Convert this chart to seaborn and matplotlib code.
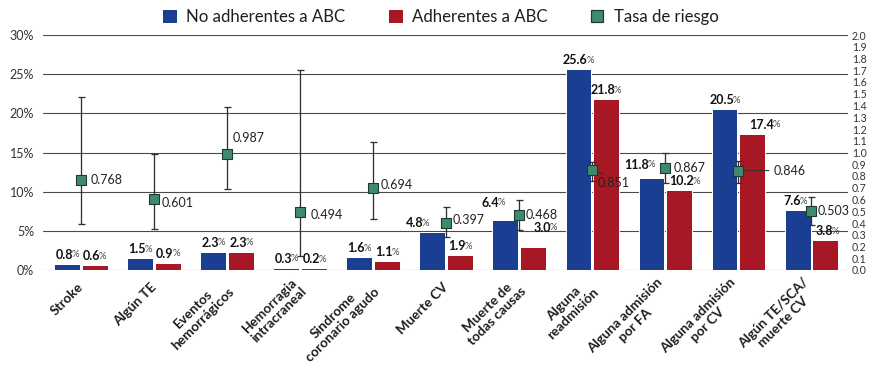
import numpy as np
import pandas as pd
import matplotlib
matplotlib.use("Agg")
import matplotlib.pyplot as plt
import seaborn as sns
from matplotlib.patches import Patch
from matplotlib.lines import Line2D

# ---------------- data ----------------
categories = ["Stroke", "Algún TE", "Eventos\nhemorrágicos", "Hemorragia\nintracraneal",
              "Sindrome\ncoronario agudo", "Muerte CV", "Muerte de\ntodas causas",
              "Alguna\nreadmisión", "Alguna admisión\npor FA", "Alguna admisión\npor CV",
              "Algún TE/SCA/\nmuerte CV"]
no_adherentes = [0.8, 1.5, 2.3, 0.3, 1.6, 4.8, 6.4, 25.6, 11.8, 20.5, 7.6]
adherentes = [0.6, 0.9, 2.3, 0.2, 1.1, 1.9, 3.0, 21.8, 10.2, 17.4, 3.8]
tasa_riesgo = [0.768, 0.601, 0.987, 0.494, 0.694, 0.397, 0.468, 0.851, 0.867, 0.846, 0.503]
ic_inferior = [0.39, 0.35, 0.69, 0.12, 0.43, 0.28, 0.34, 0.76, 0.74, 0.74, 0.38]
ic_superior = [1.47, 0.99, 1.39, 1.70, 1.09, 0.54, 0.60, 0.92, 1.00, 0.93, 0.62]
series_names = ["No adherentes a ABC", "Adherentes a ABC", "Tasa de riesgo"]
left_ticks = [0, 5, 10, 15, 20, 25, 30]

# ---------------- style ----------------
BLUE = "#1a3f92"
RED = "#a81824"
GREEN = "#3e8a6d"
GEDGE = "#1c3a30"
TXT = "#1e1e1e"

sns.set_style("white")
plt.rcParams["font.family"] = ["Lato", "DejaVu Sans"]
plt.rcParams["text.color"] = TXT

# label offsets in pixels (dx, dy) -- styling only
bar_off = {
    0: {5: (-15, 0), 6: (-12, 8), 8: (-12, 4), 10: (-2, 0)},
    1: {6: (12, 10), 8: (5, 0), 9: (12, 0), 10: (2, 0)},
}
hr_dx = [10, 8, 6, 10, 7, 6, 6, 5, 8, 35, 6]
hr_dy = [0, -4, 16, -3, 3, 3, 0, -13, 0, 0, 0]

df = pd.DataFrame({
    "cat": categories * 2,
    "val": no_adherentes + adherentes,
    "grupo": [series_names[0]] * len(categories) + [series_names[1]] * len(categories),
})

fig = plt.figure(figsize=(878 / 72, 369 / 72), dpi=72)
ax = fig.add_axes([43 / 878, 1 - 270 / 369, (848 - 43) / 878, (270 - 35) / 369])

sns.barplot(data=df, x="cat", y="val", hue="grupo", palette=[BLUE, RED],
            width=0.76, gap=0.07, saturation=1, ax=ax, legend=False)

ax.set_xlim(-0.52, 10.5)
ax.set_ylim(0, 30)
ax.set_yticks(left_ticks)
ax.set_yticklabels([f"{v}%" for v in left_ticks], fontsize=12.5, color="#333")
ax.tick_params(axis="y", length=0, pad=9)
ax.set_axisbelow(True)
ax.yaxis.grid(True, color="#4a4a4a", lw=1.1)
for s in ax.spines.values():
    s.set_visible(False)
ax.set_xlabel("")
ax.set_ylabel("")
ax.set_xticks(range(len(categories)))
ax.set_xticklabels(categories, rotation=45, ha="right", va="center",
                   rotation_mode="anchor", fontsize=13.5, fontweight="bold",
                   multialignment="center", color=TXT, linespacing=1.12)
ax.tick_params(axis="x", length=0, pad=15)

# bar value labels: bold number + small '%'
for si, cont in enumerate(ax.containers):
    for bi, bar in enumerate(cont):
        xc = bar.get_x() + bar.get_width() / 2
        top = bar.get_height()
        dx, dy = bar_off[si].get(bi, (0, 0))
        t = ax.annotate(f"{top:.1f}", xy=(xc, top), xytext=(dx - 3, 5 + dy),
                        textcoords="offset points", ha="center", va="baseline",
                        fontsize=12.5, fontweight="bold", color="#111")
        ax.annotate("%", xy=(1, 0), xycoords=t, xytext=(-1.5, 1.5),
                    textcoords="offset points", ha="left", va="bottom",
                    fontsize=9.5, color="#444")

# secondary axis: hazard ratio
ax2 = ax.twinx()
ax2.set_ylim(0, 2.0)
xpos = np.arange(len(categories))
hr = np.array(tasa_riesgo)
lo = np.array(ic_inferior)
hi = np.array(ic_superior)
ax2.errorbar(xpos, hr, yerr=[hr - lo, hi - hr], fmt="none", ecolor="#303030",
             elinewidth=1.3, capsize=3.5, capthick=1.3, zorder=3)
sns.scatterplot(x=xpos, y=hr, ax=ax2, marker="s", s=95, color=GREEN,
                edgecolor=GEDGE, linewidth=1.1, zorder=5, legend=False)
ax2.set_yticks(np.round(np.arange(0, 2.01, 0.1), 1))
ax2.set_yticklabels([f"{v:.1f}" for v in np.arange(0, 2.01, 0.1)], fontsize=10.5, color="#333")
ax2.tick_params(axis="y", length=0, pad=4)
ax2.set_ylabel("")
for s in ax2.spines.values():
    s.set_visible(False)

for i, v in enumerate(tasa_riesgo):
    kw = {}
    if i == 7:
        kw = dict(arrowprops=dict(arrowstyle="-", color="#303030", lw=1.0,
                                  shrinkA=1, shrinkB=6, relpos=(0.45, 1.0)))
    elif i == 9:
        kw = dict(arrowprops=dict(arrowstyle="-", color="#303030", lw=1.0,
                                  shrinkA=2, shrinkB=6, relpos=(0, 0.5)))
    ax2.annotate(f"{v:.3f}", xy=(i, v), xytext=(hr_dx[i], hr_dy[i]),
                 textcoords="offset points", ha="left", va="center",
                 fontsize=12.5, color="#222", zorder=6, **kw)

handles = [Patch(facecolor=BLUE, edgecolor=BLUE),
           Patch(facecolor=RED, edgecolor=RED),
           Line2D([], [], marker="s", linestyle="none", markersize=12,
                  markerfacecolor=GREEN, markeredgecolor=GEDGE, markeredgewidth=1.2)]
fig.legend(handles, series_names, loc="center", bbox_to_anchor=(0.502, 1 - 17 / 369),
           ncol=3, frameon=False, fontsize=16.8, handlelength=0.78, handleheight=0.78,
           handletextpad=0.6, columnspacing=2.6)

fig.savefig("out.png", dpi=72)
